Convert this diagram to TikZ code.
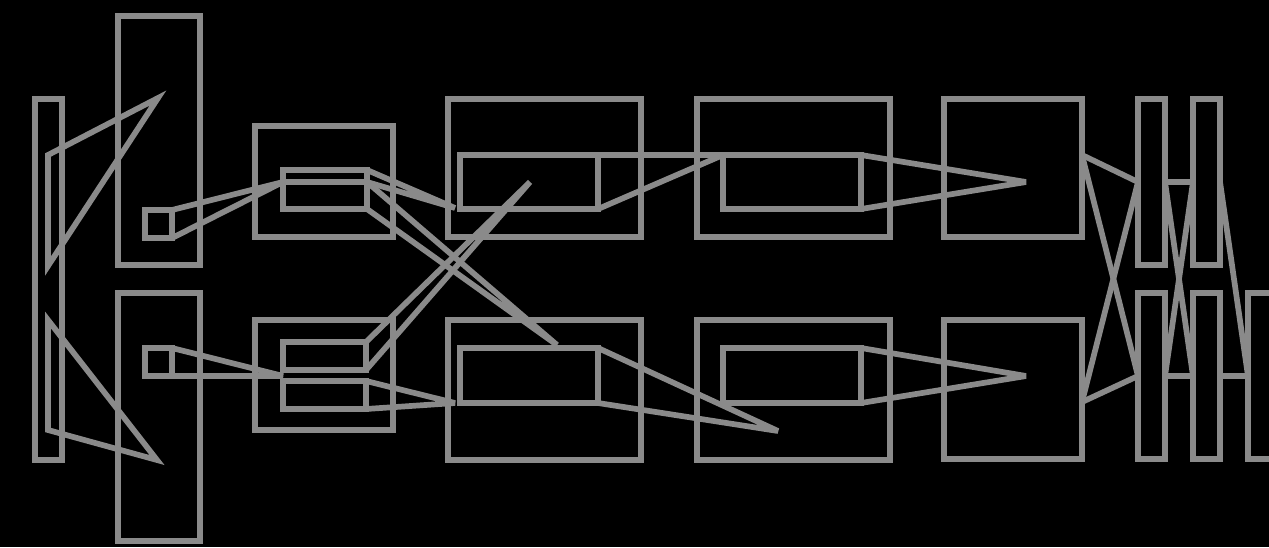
\documentclass[tikz,border=0pt]{standalone}
\usetikzlibrary{fit}
\definecolor{wire}{HTML}{8A8A8A}
\begin{document}
\begin{tikzpicture}[x=1pt,y=-1pt,
  box/.style={draw=wire, line width=5.7pt, inner sep=0pt, outer sep=0pt, fill=none},
  wirel/.style={draw=wire, line width=5.7pt, line join=miter, miter limit=4},
]
\useasboundingbox (0,0) rectangle (1269,547);
\fill[black] (0,0) rectangle (1269,547);
\clip (0,0) rectangle (1269,547);

% left column
\node[box, fit={(35,99) (62,460)}] (n0) {};
\node[box, fit={(118,16) (200,265)}] (t1) {};
\node[box, fit={(118,293) (200,541)}] (t2) {};
\node[box, fit={(145,210) (172,238)}] (s1) {};
\node[box, fit={(145,348) (172,376)}] (s2) {};
\coordinate (tA) at (48,155);
\coordinate (tB) at (158,98);
\coordinate (tC) at (48,266);
\coordinate (tD) at (48,320);
\coordinate (tE) at (157,460);
\coordinate (tF) at (48,430);
\draw[wirel] (tA) -- (tB) -- (tC) -- cycle;
\draw[wirel] (tD) -- (tE) -- (tF) -- cycle;

% second column
\node[box, fit={(255,126) (393,237)}] (m1) {};
\node[box, fit={(255,320) (393,430)}] (m2) {};
\node[box, fit={(283,170) (367,182)}] (a1) {};
\node[box, fit={(283,182) (367,209)}] (a2) {};
\node[box, fit={(283,342) (366,370)}] (b1) {};
\node[box, fit={(283,381) (366,409)}] (b2) {};
\coordinate (L1) at (283,376);
\draw[wirel] (s1.north east) -- (a1.south west) -- (s1.south east);
\draw[wirel] (s2.north east) -- (L1) -- (s2.south east);

% third column
\node[box, fit={(448,99) (641,237)}] (o1) {};
\node[box, fit={(448,320) (641,460)}] (o2) {};
\node[box, fit={(460,155) (598,209)}] (c1) {};
\node[box, fit={(460,348) (598,403)}] (c2) {};
\coordinate (C1) at (455,208);
\coordinate (C2) at (557,345);
\coordinate (C3) at (530,182);
\coordinate (C4) at (455,403);
\coordinate (C5) at (778,431);
\draw[wirel] (a1.north east) -- (C1) -- (a1.south east);
\draw[wirel] (a2.north east) -- (C2) -- (a2.south east);
\draw[wirel] (b1.north east) -- (C3) -- (b1.south east);
\draw[wirel] (b2.north east) -- (C4) -- (b2.south east);

% fourth column
\node[box, fit={(697,99) (890,237)}] (p1) {};
\node[box, fit={(697,320) (890,460)}] (p2) {};
\node[box, fit={(723,155) (861,209)}] (d1) {};
\node[box, fit={(723,348) (861,403)}] (d2) {};
\draw[wirel] (c1.north east) -- (d1.north west) -- (c1.south east);
\draw[wirel] (c2.north east) -- (C5) -- (c2.south east);
\coordinate (C6) at (1026,182);
\coordinate (C7) at (1026,376);
\draw[wirel] (d1.north east) -- (C6) -- (d1.south east);
\draw[wirel] (d2.north east) -- (C7) -- (d2.south east);

% fifth column
\node[box, fit={(944,99) (1082,237)}] (q1) {};
\node[box, fit={(944,320) (1082,459)}] (q2) {};
\coordinate (P1) at (1082,155);
\coordinate (P2) at (1082,402);

% right narrow columns
\node[box, fit={(1138,99) (1165,265)}] (r1) {};
\node[box, fit={(1138,293) (1165,459)}] (r2) {};
\node[box, fit={(1193,99) (1220,265)}] (u1) {};
\node[box, fit={(1193,293) (1220,459)}] (u2) {};
\node[box, fit={(1248,293) (1276,459)}] (v2) {};

\draw[wirel] (P1) -- (r1.west);
\draw[wirel] (P1) -- (r2.west);
\draw[wirel] (P2) -- (r1.west);
\draw[wirel] (P2) -- (r2.west);
\draw[wirel] (r1.east) -- (u1.west);
\draw[wirel] (r2.east) -- (u2.west);
\draw[wirel] (r1.east) -- (u2.west);
\draw[wirel] (r2.east) -- (u1.west);
\draw[wirel] (u1.east) -- (v2.west);
\draw[wirel] (u2.east) -- (v2.west);
\end{tikzpicture}
\end{document}
